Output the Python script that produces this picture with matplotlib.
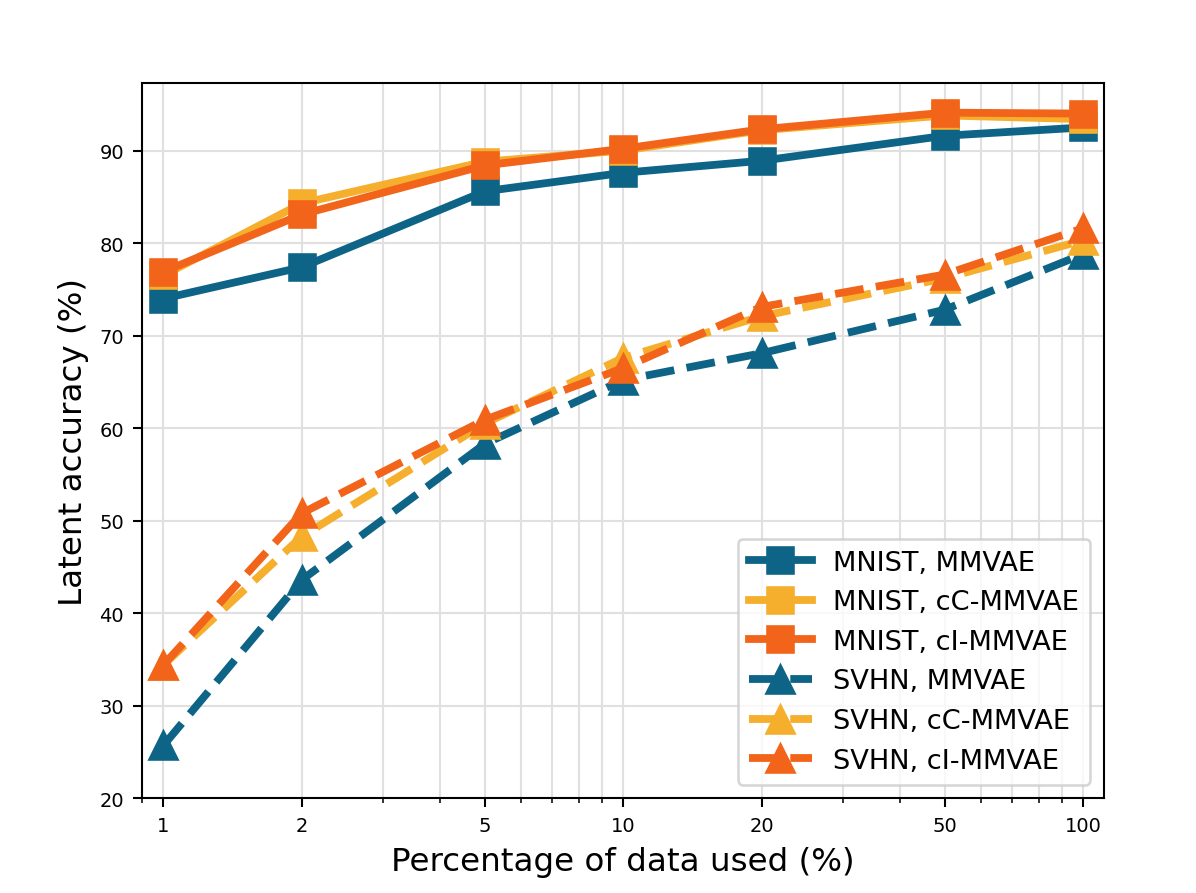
import matplotlib
matplotlib.use("Agg")
import matplotlib.pyplot as plt

# percentage of data used (x axis, log scale)
pct = [1, 2, 5, 10, 20, 50, 100]

# latent accuracy (%)
mnist_mmvae = [74.0, 77.4, 85.6, 87.6, 88.9, 91.6, 92.5]
mnist_cc = [76.5, 84.3, 88.8, 90.0, 92.2, 93.8, 93.4]
mnist_ci = [76.9, 83.1, 88.4, 90.2, 92.3, 94.1, 94.0]

svhn_mmvae = [25.7, 43.6, 58.3, 65.2, 68.1, 72.8, 78.8]
svhn_cc = [34.4, 48.3, 60.5, 67.6, 72.1, 76.2, 80.3]
svhn_ci = [34.4, 50.8, 60.9, 66.5, 73.1, 76.6, 81.6]

tick_vals = [1, 2, 5, 10, 20, 50, 100]
tick_labels = ["1", "2", "5", "10", "20", "50", "100"]

blue = "#0e6486"
yellow = "#f6ae2d"
orange = "#f26419"

fig = plt.figure(figsize=(1196 / 187, 894 / 187), dpi=187)
ax = fig.add_axes([0.119, 0.106, 0.804, 0.8])

# MNIST: solid lines with squares
ax.plot(pct, mnist_mmvae, "-s", color=blue, lw=3, ms=10, label="MNIST, MMVAE")
ax.plot(pct, mnist_cc, "-s", color=yellow, lw=3, ms=10, label="MNIST, cC-MMVAE")
ax.plot(pct, mnist_ci, "-s", color=orange, lw=3, ms=10, label="MNIST, cI-MMVAE")

# SVHN: dashed lines with triangles
ax.plot(pct, svhn_mmvae, "--^", color=blue, lw=3, ms=11, label="SVHN, MMVAE")
ax.plot(pct, svhn_cc, "--^", color=yellow, lw=3, ms=11, label="SVHN, cC-MMVAE")
ax.plot(pct, svhn_ci, "--^", color=orange, lw=3, ms=11, label="SVHN, cI-MMVAE")

ax.set_xscale("log")
ax.set_xlim(0.9, 111)
ax.set_ylim(20, 97.3)
ax.set_xticks(tick_vals)
ax.set_xticklabels(tick_labels)
ax.set_yticks([20, 30, 40, 50, 60, 70, 80, 90])
ax.tick_params(labelsize=7.5)

ax.grid(True, which="both", color="#e0e0e0", linewidth=0.8)
ax.set_axisbelow(True)

ax.set_xlabel("Percentage of data used (%)", fontsize=12.5)
ax.set_ylabel("Latent accuracy (%)", fontsize=12.5)

ax.legend(loc="lower right", fontsize=10.5, handlelength=2.3)

fig.savefig("out.png", dpi=187)
